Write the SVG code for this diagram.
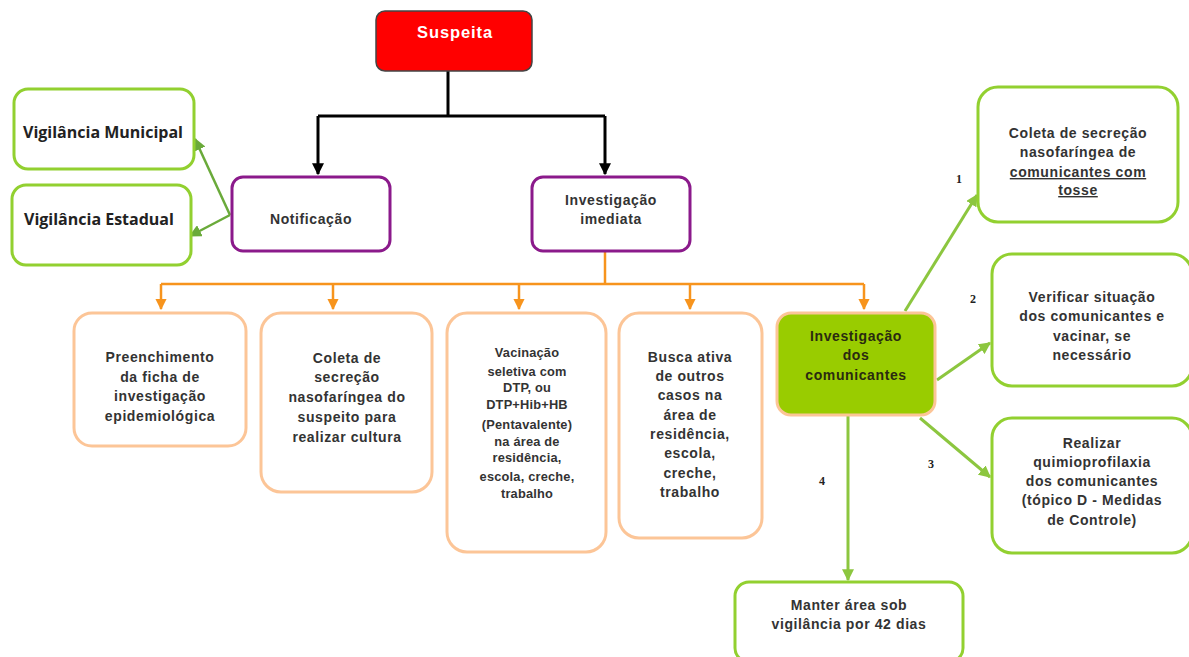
<svg xmlns="http://www.w3.org/2000/svg" width="1189" height="657" viewBox="0 0 1189 657">
<defs>
<style>
.t{font-family:"Liberation Sans",Arial,sans-serif;font-weight:bold;font-size:14px;fill:#333;text-anchor:middle;letter-spacing:0.6px}
.ts{font-size:12.8px;letter-spacing:0.2px}
.v{font-family:"Open Sans","Noto Sans",sans-serif;font-weight:bold;font-size:16px;fill:#222}
.n{font-family:"Liberation Serif","Times New Roman",serif;font-weight:bold;font-size:12px;fill:#222;text-anchor:middle}
.purple{fill:#fff;stroke:#8b1a8b;stroke-width:3}
.orange{fill:#fff;stroke:#fcc597;stroke-width:3}
.lime{fill:#fff;stroke:#92d030;stroke-width:3}
.blk{fill:none;stroke:#000;stroke-width:3}
.org{fill:none;stroke:#f7941d;stroke-width:2.5}
.grn{fill:none;stroke:#8cc63f;stroke-width:3}
.grn2{fill:none;stroke:#6aaa3a;stroke-width:2.5}
</style>
<marker id="ab" viewBox="0 0 10 10" refX="9" refY="5" markerWidth="4" markerHeight="4" orient="auto"><path d="M0,0L10,5L0,10z" fill="#000"/></marker>
<marker id="ao" viewBox="0 0 10 10" refX="9" refY="5" markerWidth="4.5" markerHeight="4.5" orient="auto"><path d="M0,0L10,5L0,10z" fill="#f7941d"/></marker>
<marker id="ag" viewBox="0 0 10 10" refX="9" refY="5" markerWidth="4" markerHeight="4" orient="auto"><path d="M0,0L10,5L0,10z" fill="#8cc63f"/></marker>
<marker id="ag2" viewBox="0 0 10 10" refX="9" refY="5" markerWidth="5" markerHeight="5" orient="auto"><path d="M0,0L10,5L0,10z" fill="#6aaa3a"/></marker>
</defs>
<rect width="1189" height="657" fill="#fff"/>

<g id="connectors">
<path class="blk" d="M448,71V116"/>
<path class="blk" d="M318,116H605"/>
<path class="blk" d="M318,116V174" marker-end="url(#ab)"/>
<path class="blk" d="M605,116V174" marker-end="url(#ab)"/>
<path class="grn2" d="M230,215L195,139" marker-end="url(#ag2)"/>
<path class="grn2" d="M230,215L190,236" marker-end="url(#ag2)"/>
<path class="org" d="M605,251V284"/>
<path class="org" d="M161,284H864"/>
<path class="org" d="M161,284V309" marker-end="url(#ao)"/>
<path class="org" d="M333,284V309" marker-end="url(#ao)"/>
<path class="org" d="M519,284V309" marker-end="url(#ao)"/>
<path class="org" d="M690,284V309" marker-end="url(#ao)"/>
<path class="org" d="M864,284V309" marker-end="url(#ao)"/>
<path class="grn" d="M905,311L977,195" marker-end="url(#ag)"/>
<path class="grn" d="M937,380L990,343" marker-end="url(#ag)"/>
<path class="grn" d="M920,418L990,477" marker-end="url(#ag)"/>
<path class="grn" d="M848,416V580" marker-end="url(#ag)"/>
<text class="n" x="959" y="183">1</text>
<text class="n" x="973" y="303">2</text>
<text class="n" x="931" y="468">3</text>
<text class="n" x="822" y="485">4</text>
</g>

<g id="suspeita">
<rect x="376" y="11" width="156" height="60" rx="9" fill="#ff0000" stroke="#444" stroke-width="1.5"/>
<text class="t" x="455" y="38" style="fill:#fff;font-size:16.5px;letter-spacing:0.9px">Suspeita</text>
</g>

<g id="notificacao">
<rect class="purple" x="232" y="177" width="158" height="74" rx="11"/>
<text class="t" x="311" y="224">Notificação</text>
</g>

<g id="investigacao-imediata">
<rect class="purple" x="532" y="177" width="158" height="74" rx="11"/>
<text class="t" x="611" y="205">Investigação</text>
<text class="t" x="611" y="224">imediata</text>
</g>

<g id="vig-municipal">
<rect class="lime" x="14" y="89" width="180" height="80" rx="14"/>
<text class="v" x="23" y="138">Vigilância Municipal</text>
</g>

<g id="vig-estadual">
<rect class="lime" x="12" y="185" width="179" height="80" rx="14"/>
<text class="v" x="24" y="225">Vigilância Estadual</text>
</g>

<g id="preenchimento">
<rect class="orange" x="74" y="313" width="172" height="133" rx="18"/>
<text class="t" x="160" y="362">Preenchimento</text>
<text class="t" x="160" y="382">da ficha de</text>
<text class="t" x="160" y="401">investigação</text>
<text class="t" x="160" y="421">epidemiológica</text>
</g>

<g id="coleta-suspeito">
<rect class="orange" x="261" y="313" width="171" height="179" rx="20"/>
<text class="t" x="347" y="363">Coleta de</text>
<text class="t" x="347" y="382">secreção</text>
<text class="t" x="347" y="402">nasofaríngea do</text>
<text class="t" x="347" y="422">suspeito para</text>
<text class="t" x="347" y="442">realizar cultura</text>
</g>

<g id="vacinacao">
<rect class="orange" x="447" y="313" width="159" height="239" rx="20"/>
<text class="t ts" x="527" y="357">Vacinação</text>
<text class="t ts" x="527" y="376">seletiva com</text>
<text class="t ts" x="527" y="392">DTP, ou</text>
<text class="t ts" x="527" y="409">DTP+Hib+HB</text>
<text class="t ts" x="527" y="429">(Pentavalente)</text>
<text class="t ts" x="527" y="446">na área de</text>
<text class="t ts" x="527" y="462">residência,</text>
<text class="t ts" x="527" y="481">escola, creche,</text>
<text class="t ts" x="527" y="498">trabalho</text>
</g>

<g id="busca-ativa">
<rect class="orange" x="619" y="313" width="143" height="225" rx="20"/>
<text class="t" x="690" y="362">Busca ativa</text>
<text class="t" x="690" y="381">de outros</text>
<text class="t" x="690" y="400">casos na</text>
<text class="t" x="690" y="420">área de</text>
<text class="t" x="690" y="439">residência,</text>
<text class="t" x="690" y="458">escola,</text>
<text class="t" x="690" y="478">creche,</text>
<text class="t" x="690" y="497">trabalho</text>
</g>

<g id="investigacao-comunicantes">
<rect x="777" y="313" width="158" height="102" rx="14" fill="#99cc00" stroke="#fcc597" stroke-width="3"/>
<text class="t" x="856" y="341" style="fill:#2a2a10">Investigação</text>
<text class="t" x="856" y="360" style="fill:#2a2a10">dos</text>
<text class="t" x="856" y="380" style="fill:#2a2a10">comunicantes</text>
</g>

<g id="coleta-comunicantes">
<rect class="lime" x="978" y="87" width="200" height="135" rx="20"/>
<text class="t" x="1078" y="138">Coleta de secreção</text>
<text class="t" x="1078" y="157">nasofaríngea de</text>
<text class="t" x="1078" y="177" text-decoration="underline">comunicantes com</text>
<text class="t" x="1078" y="195" text-decoration="underline">tosse</text>
</g>

<g id="verificar">
<rect class="lime" x="992" y="254" width="200" height="132" rx="20"/>
<text class="t" x="1092" y="302">Verificar situação</text>
<text class="t" x="1092" y="321">dos comunicantes e</text>
<text class="t" x="1092" y="341">vacinar, se</text>
<text class="t" x="1092" y="360">necessário</text>
</g>

<g id="quimioprofilaxia">
<rect class="lime" x="992" y="418" width="200" height="135" rx="20"/>
<text class="t" x="1092" y="448">Realizar</text>
<text class="t" x="1092" y="467">quimioprofilaxia</text>
<text class="t" x="1092" y="486">dos comunicantes</text>
<text class="t" x="1092" y="505">(tópico D - Medidas</text>
<text class="t" x="1092" y="525">de Controle)</text>
</g>

<g id="manter-area">
<rect class="lime" x="735" y="582" width="228" height="80" rx="14"/>
<text class="t" x="849" y="610">Manter área sob</text>
<text class="t" x="849" y="629">vigilância por 42 dias</text>
</g>
</svg>
